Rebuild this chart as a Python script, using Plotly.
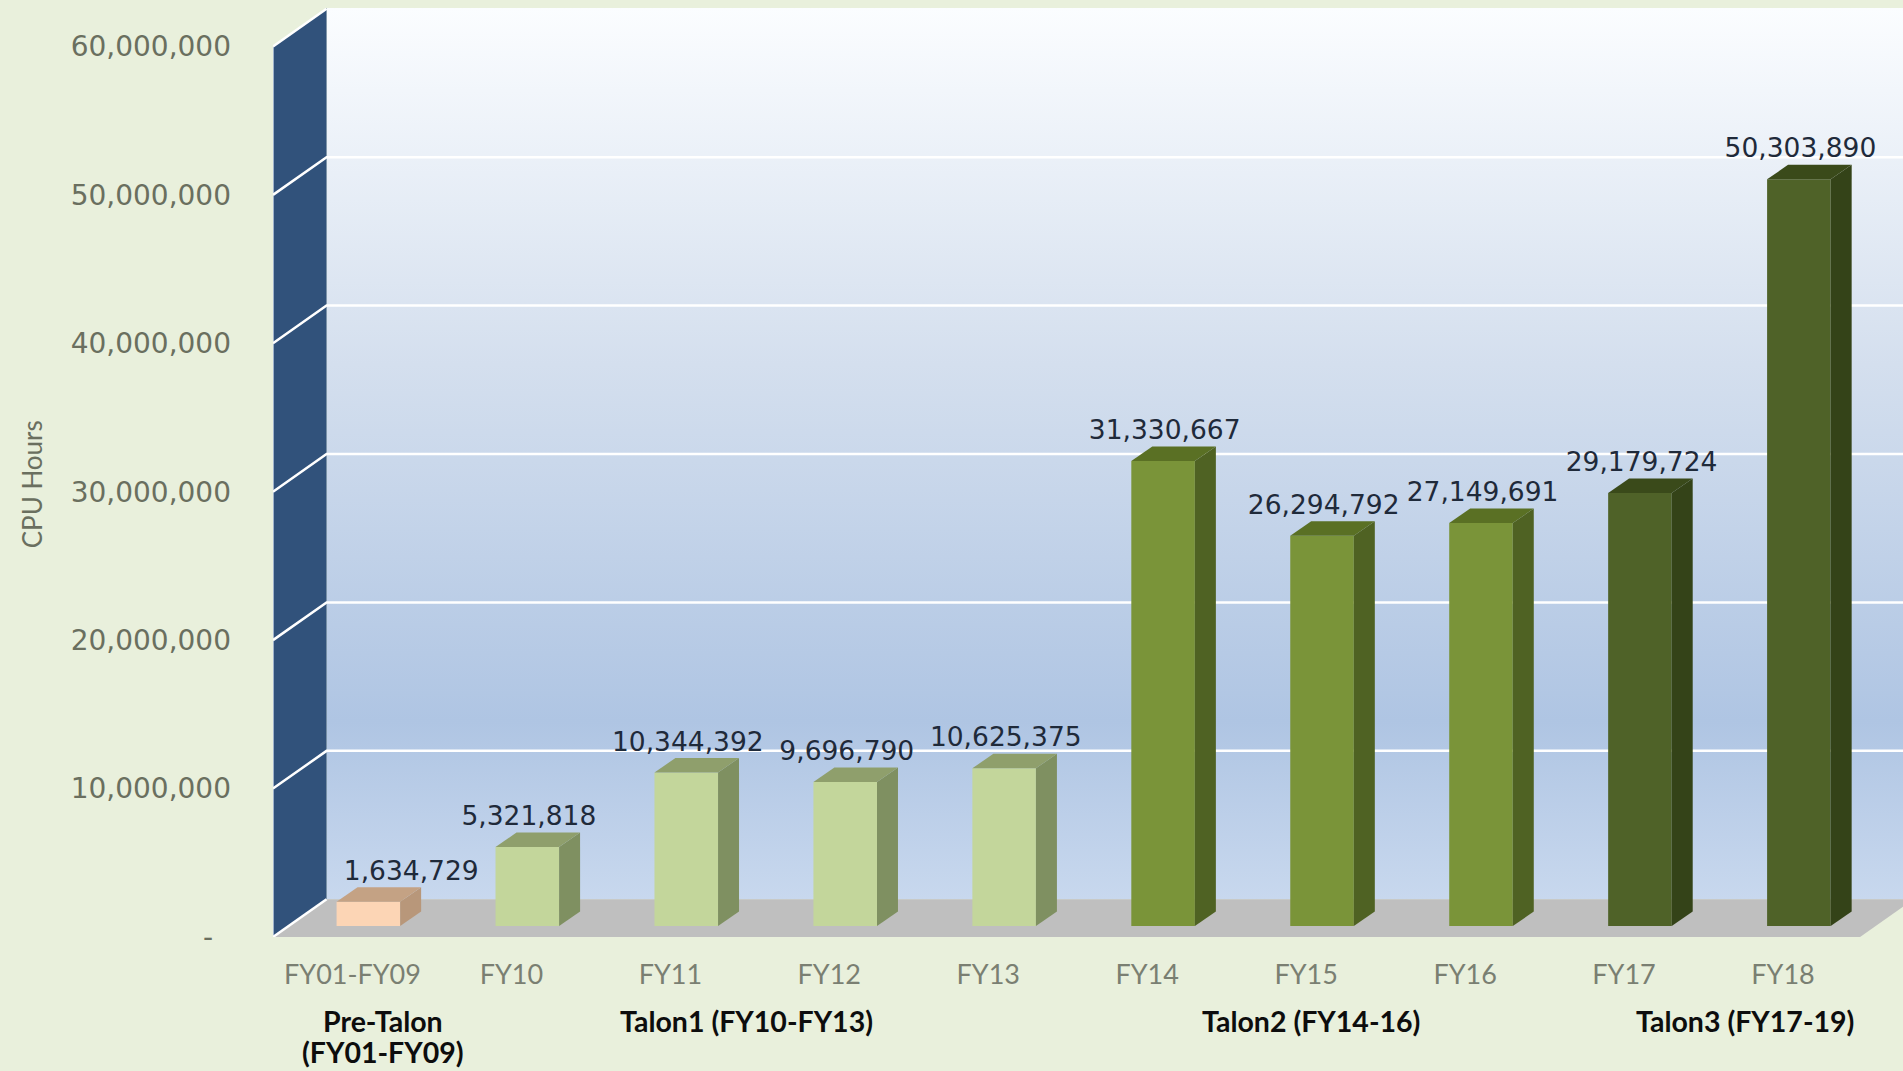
import plotly.graph_objects as go


YEARS = ["FY01-FY09", "FY10", "FY11", "FY12", "FY13", "FY14", "FY15", "FY16", "FY17", "FY18"]
CPU_HOURS = [1634729, 5321818, 10344392, 9696790, 10625375, 31330667, 26294792, 27149691, 29179724, 50303890]

FRONT_COLORS = ["#fcd5b5"] + ["#c3d69b"] * 4 + ["#7a9439"] * 3 + ["#4f6228"] * 2
TOP_COLORS = ["#c4a284"] + ["#8f9f6c"] * 4 + ["#5a7024"] * 3 + ["#3a4a1a"] * 2
SIDE_COLORS = ["#b8977a"] + ["#7f9061"] * 4 + ["#4f6223"] * 3 + ["#344318"] * 2

Y_TICKS = [0, 10000000, 20000000, 30000000, 40000000, 50000000, 60000000]
Y_TICK_TEXT = ["-\u00a0\u00a0", "10,000,000", "20,000,000", "30,000,000", "40,000,000", "50,000,000", "60,000,000"]

GROUP_LABELS = ["Pre-Talon", "(FY01-FY09)", "Talon1 (FY10-FY13)", "Talon2 (FY14-16)", "Talon3 (FY17-19)"]
GROUP_X = [0.19, 0.19, 2.48, 6.03, 8.76]
GROUP_Y = [-0.0905, -0.1235, -0.0905, -0.0905, -0.0905]

WALL_GRADIENT = [
    [0.0, "#c8d8ee"],
    [0.2, "#afc5e3"],
    [0.6, "#d4dfee"],
    [1.0, "#fbfdff"],
]

# perspective of the excel 3d chart, in axis units
WALL_DX = 0.337
WALL_DY = 2540000
BAR_DX = 0.132
BAR_DY = 976000
BAR_BASE = 741000
BAR_SHIFT = 0.1
BAR_WIDTH = 0.4
LABEL_GAP = 1920000
LABEL_DX = [0.27] + [0.01] * 9

X_RANGE = [-0.5, 9.755]
Y_RANGE = [0, 62590000]

TICK_COLOR = "#6a6f5f"
BG_COLOR = "#e9f0dc"


def polygon(xs, ys, color, xaxis="x", yaxis="y"):
    return go.Scatter(
        x=xs + xs[:1],
        y=ys + ys[:1],
        mode="lines",
        fill="toself",
        fillcolor=color,
        line=dict(width=0, color=color),
        hoverinfo="skip",
        xaxis=xaxis,
        yaxis=yaxis,
    )


fig = go.Figure()

# room: back wall, floor, left wall
left = X_RANGE[0]
right = 9.485
top = Y_TICKS[-1]

fig.add_trace(
    go.Scatter(
        x=[left + WALL_DX, 10.5, 10.5, left + WALL_DX, left + WALL_DX],
        y=[WALL_DY, WALL_DY, Y_RANGE[1], Y_RANGE[1], WALL_DY],
        mode="lines",
        fill="toself",
        fillgradient=dict(type="vertical", colorscale=WALL_GRADIENT),
        line=dict(width=0),
        hoverinfo="skip",
    )
)
fig.add_trace(
    polygon(
        [left, right, right + WALL_DX, left + WALL_DX],
        [0, 0, WALL_DY, WALL_DY],
        "#bfbfbf",
    )
)
fig.add_trace(
    polygon(
        [left, left + WALL_DX, left + WALL_DX, left],
        [0, WALL_DY, Y_RANGE[1], top],
        "#31527b",
    )
)

# pale front edge of the left wall
fig.add_trace(
    go.Scatter(
        x=[left, left],
        y=[0, top],
        mode="lines",
        line=dict(color="#9fb2cb", width=2),
        cliponaxis=False,
        hoverinfo="skip",
    )
)

# gridlines run along the back wall and down the left wall
grid_x = []
grid_y = []
for tick in Y_TICKS:
    grid_x += [left, left + WALL_DX]
    grid_y += [tick, tick + WALL_DY]
    if 0 < tick < top:
        grid_x += [10.5]
        grid_y += [tick + WALL_DY]
    grid_x += [None]
    grid_y += [None]

fig.add_trace(
    go.Scatter(
        x=grid_x,
        y=grid_y,
        mode="lines",
        line=dict(color="#ffffff", width=2.5),
        hoverinfo="skip",
    )
)

# bars sit on a second pair of axes, bar traces would go under the walls otherwise
bar_x = [i + BAR_SHIFT for i in range(len(YEARS))]

fig.add_trace(
    go.Bar(
        x=bar_x,
        y=CPU_HOURS,
        base=BAR_BASE,
        width=BAR_WIDTH,
        marker=dict(color=FRONT_COLORS, line=dict(width=0)),
        hovertemplate="%{y:,}<extra></extra>",
        xaxis="x2",
        yaxis="y2",
    )
)

for i, value in enumerate(CPU_HOURS):
    x0 = bar_x[i] - BAR_WIDTH / 2
    x1 = bar_x[i] + BAR_WIDTH / 2
    y1 = BAR_BASE + value

    fig.add_trace(
        polygon(
            [x1, x1 + BAR_DX, x1 + BAR_DX, x1],
            [BAR_BASE, BAR_BASE + BAR_DY, y1 + BAR_DY, y1],
            SIDE_COLORS[i],
            "x2",
            "y2",
        )
    )
    fig.add_trace(
        polygon(
            [x0, x1, x1 + BAR_DX, x0 + BAR_DX],
            [y1, y1, y1 + BAR_DY, y1 + BAR_DY],
            TOP_COLORS[i],
            "x2",
            "y2",
        )
    )

fig.add_trace(
    go.Scatter(
        x=[x + dx for x, dx in zip(bar_x, LABEL_DX)],
        y=[BAR_BASE + v + LABEL_GAP for v in CPU_HOURS],
        mode="text",
        text=[f"{v:,}" for v in CPU_HOURS],
        textposition="middle center",
        textfont=dict(family="DejaVu Sans", size=26.5, color="#1f2a3a"),
        cliponaxis=False,
        hoverinfo="skip",
        xaxis="x2",
        yaxis="y2",
    )
)

for label, x, y in zip(GROUP_LABELS, GROUP_X, GROUP_Y):
    fig.add_annotation(
        xref="x",
        yref="paper",
        x=x,
        y=y,
        xanchor="center",
        yanchor="middle",
        text=f"<b>{label}</b>",
        showarrow=False,
        font=dict(family="Lato", size=28.5, color="#0d0d0d"),
    )

fig.add_annotation(
    xref="paper",
    yref="paper",
    x=-0.148,
    y=0.487,
    xanchor="center",
    yanchor="middle",
    text="CPU Hours",
    textangle=-90,
    showarrow=False,
    font=dict(family="Lato", size=26, color=TICK_COLOR),
)

fig.update_layout(
    width=1903,
    height=1071,
    margin=dict(l=272.5, r=0, t=8, b=134),
    paper_bgcolor=BG_COLOR,
    plot_bgcolor=BG_COLOR,
    showlegend=False,
    xaxis=dict(
        range=X_RANGE,
        tickvals=list(range(len(YEARS))),
        ticktext=YEARS,
        showgrid=False,
        zeroline=False,
        showline=False,
        ticks="",
        ticklabelstandoff=19,
        tickfont=dict(family="Lato", size=27, color="#7a7f72"),
    ),
    yaxis=dict(
        range=Y_RANGE,
        tickvals=Y_TICKS,
        ticktext=Y_TICK_TEXT,
        showgrid=False,
        zeroline=False,
        showline=False,
        ticks="",
        ticklabelstandoff=41,
        tickfont=dict(family="DejaVu Sans", size=28, color=TICK_COLOR),
    ),
    xaxis2=dict(range=X_RANGE, overlaying="x", anchor="y2", visible=False),
    yaxis2=dict(range=Y_RANGE, overlaying="y", anchor="x2", visible=False),
)

fig.write_html(
    "out.html",
    config={"displayModeBar": False},
    post_script="document.body.style.margin='0';document.body.style.overflow='hidden';",
)
